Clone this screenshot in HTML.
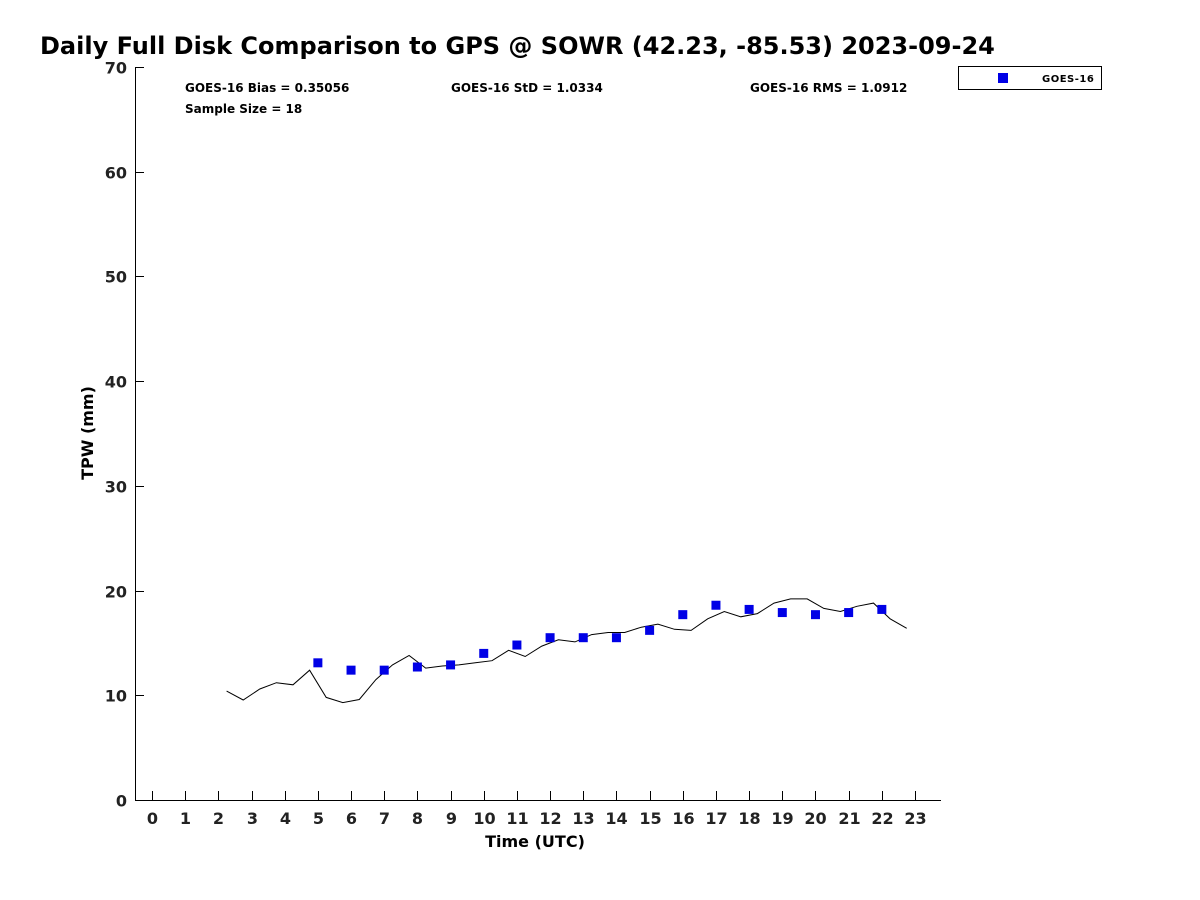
<!DOCTYPE html>
<html><head><meta charset="utf-8"><style>
body{margin:0;background:#fff;}
svg{display:block;font-family:"DejaVu Sans","Liberation Sans",sans-serif;}
</style></head><body>
<svg id="chart" width="1200" height="900" xmlns="http://www.w3.org/2000/svg">
<text x="40" y="54" font-size="24" font-weight="bold" fill="#000">Daily Full Disk Comparison to GPS @ SOWR (42.23, -85.53) 2023-09-24</text>
<text x="185" y="92" font-size="12" font-weight="bold">GOES-16 Bias = 0.35056</text>
<text x="451" y="92" font-size="12" font-weight="bold">GOES-16 StD = 1.0334</text>
<text x="750" y="92" font-size="12" font-weight="bold">GOES-16 RMS = 1.0912</text>
<text x="185" y="113" font-size="12" font-weight="bold">Sample Size = 18</text>
<g>
<rect x="958.5" y="66.5" width="143" height="23" fill="#fff" stroke="#000" stroke-width="1"/>
<rect x="998" y="73" width="10" height="10" fill="#0000e6"/>
<text x="1042" y="82" font-size="10" font-weight="bold" letter-spacing="0.5">GOES-16</text>
</g>
<g id="axes"></g>
<g id="marks"></g>
<text x="535" y="847" font-size="16" font-weight="bold" text-anchor="middle">Time (UTC)</text>
<text transform="translate(93,433) rotate(-90)" font-size="16" font-weight="bold" text-anchor="middle">TPW (mm)</text>
</svg>
<script>
const xTicks=[0,1,2,3,4,5,6,7,8,9,10,11,12,13,14,15,16,17,18,19,20,21,22,23];
const yTicks=[0,10,20,30,40,50,60,70];
const gpsTimes=[2.25,2.75,3.25,3.75,4.25,4.75,5.25,5.75,6.25,6.75,7.25,7.75,8.25,8.75,9.25,9.75,10.25,10.75,11.25,11.75,12.25,12.75,13.25,13.75,14.25,14.75,15.25,15.75,16.25,16.75,17.25,17.75,18.25,18.75,19.25,19.75,20.25,20.75,21.25,21.75,22.25,22.75];
const gpsValues=[10.4,9.55,10.6,11.2,11.0,12.4,9.8,9.3,9.6,11.5,12.9,13.8,12.6,12.8,12.9,13.1,13.3,14.3,13.7,14.7,15.3,15.1,15.8,16.0,16.0,16.5,16.8,16.3,16.2,17.3,18.0,17.5,17.8,18.8,19.2,19.2,18.3,18.0,18.5,18.8,17.3,16.4];
const goesTimes=[5,6,7,8,9,10,11,12,13,14,15,16,17,18,19,20,21,22];
const goesValues=[13.1,12.4,12.4,12.7,12.9,14.0,14.8,15.5,15.5,15.5,16.2,17.7,18.6,18.2,17.9,17.7,17.9,18.2];
const NS='http://www.w3.org/2000/svg';
const X0=135,X1=941,Y0=800,Y1=67;
function sx(t){return 152+t*(915-152)/23;}
function sy(v){return Y0-v*(Y0-Y1)/70;}
function mk(tag,attrs,parent){const e=document.createElementNS(NS,tag);for(const k in attrs)e.setAttribute(k,attrs[k]);parent.appendChild(e);return e;}
const axes=document.getElementById('axes'),marks=document.getElementById('marks');
const xa=mk('line',{x1:X0,y1:Y0+0.5,x2:X1,y2:Y0+0.5,stroke:'#000','stroke-width':1},axes);


const ya=mk('line',{x1:X0+0.5,y1:Y1,x2:X0+0.5,y2:Y0,stroke:'#000','stroke-width':1},axes);


xTicks.forEach(t=>{const x=Math.round(sx(t))+0.5;
 const l=mk('line',{x1:x,y1:Y0,x2:x,y2:Y0-9,stroke:'#000'},axes);
 
 
 const tx=mk('text',{x:x,y:824,'font-size':16,'font-weight':'bold','text-anchor':'middle',fill:'#222'},axes);
 tx.textContent=t;
 
 });
yTicks.forEach(v=>{const y=Math.round(sy(v))+0.5;
 const l=mk('line',{x1:X0,y1:y,x2:X0+9,y2:y,stroke:'#000'},axes);
 
 
 const tx=mk('text',{x:127,y:y+6,'font-size':16,'font-weight':'bold','text-anchor':'end',fill:'#222'},axes);
 tx.textContent=v;
 
 });
const pts=gpsTimes.map((t,i)=>sx(t).toFixed(1)+','+sy(gpsValues[i]).toFixed(1)).join(' ');
const pl=mk('polyline',{points:pts,fill:'none',stroke:'#000','stroke-width':1},marks);


goesTimes.forEach((t,i)=>{
 const r=mk('rect',{x:sx(t)-4.5,y:sy(goesValues[i])-4.5,width:9,height:9,fill:'#0000e6'},marks);
 
 });
</script>
</body></html>
